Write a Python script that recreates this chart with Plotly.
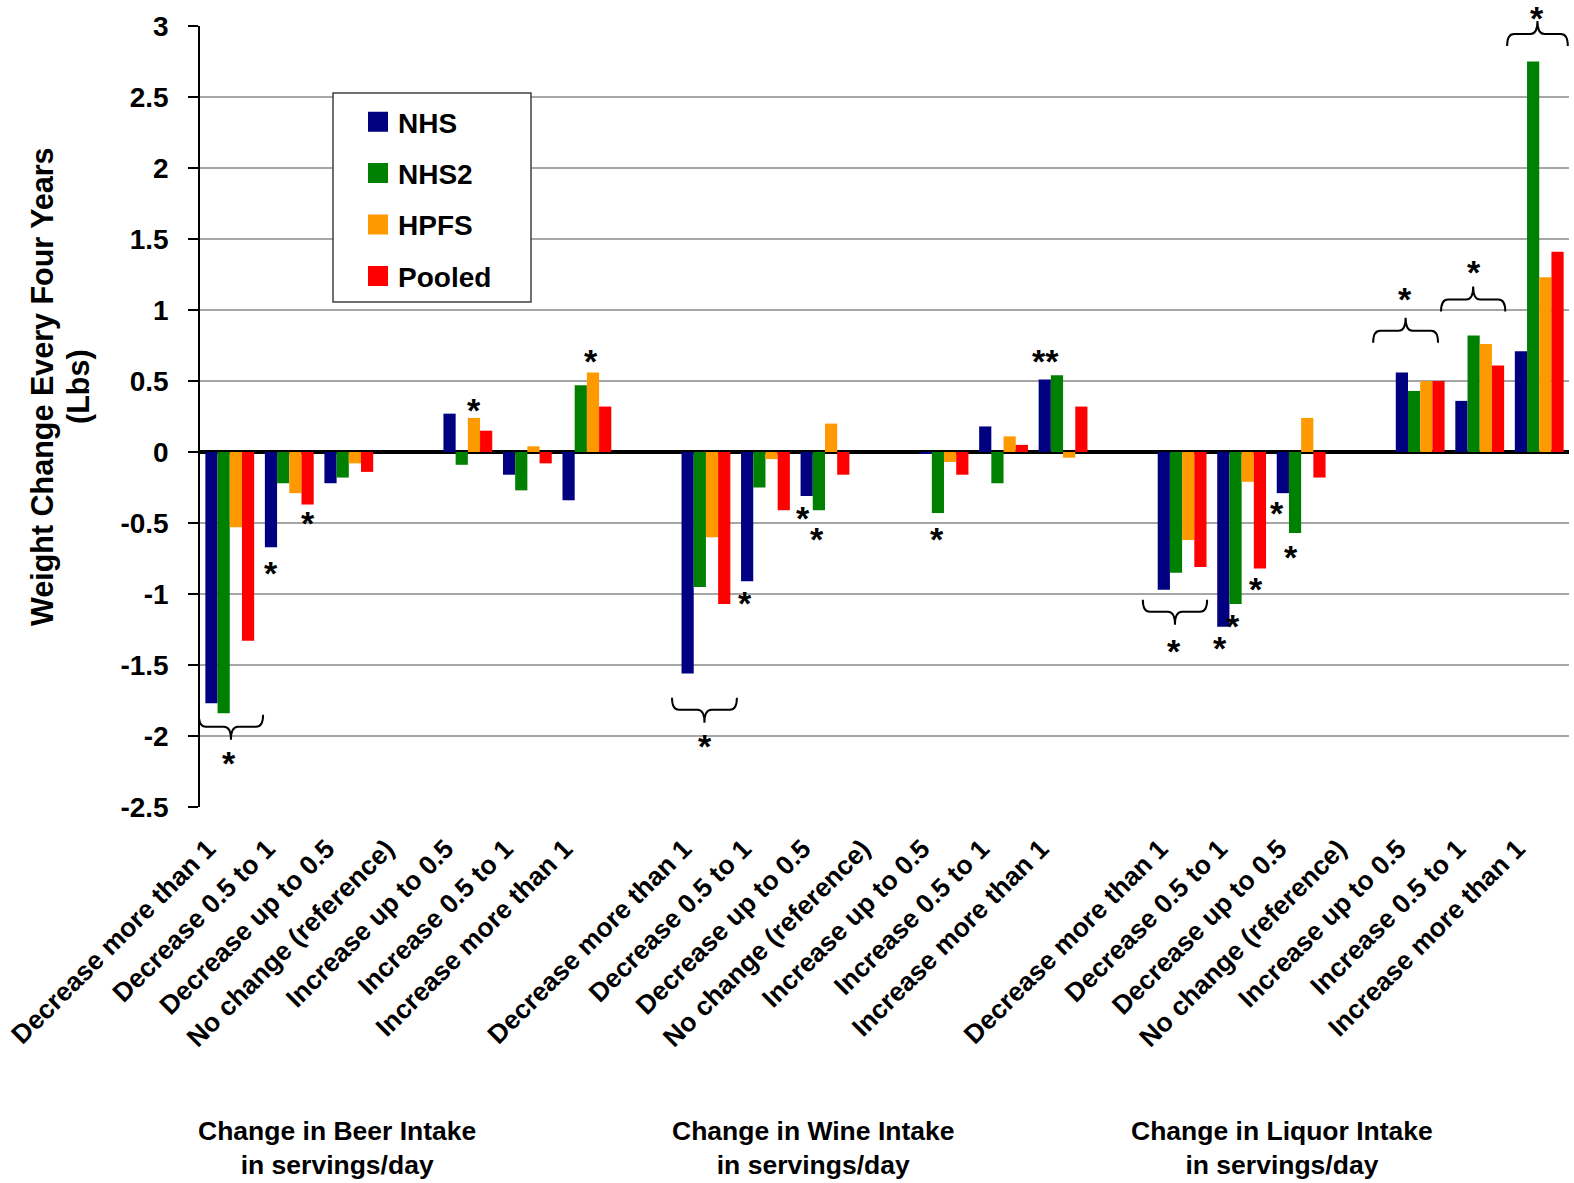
import plotly.graph_objects as go

# ---------------- data ----------------
levels = ["Decrease more than 1", "Decrease 0.5 to 1", "Decrease up to 0.5",
          "No change (reference)", "Increase up to 0.5", "Increase 0.5 to 1",
          "Increase more than 1"]
groups = ["Change in Beer Intake<br>in servings/day",
          "Change in Wine Intake<br>in servings/day",
          "Change in Liquor Intake<br>in servings/day"]
series_names = ["NHS", "NHS2", "HPFS", "Pooled"]
series_colors = ["#000080", "#008000", "#FF9900", "#FF0000"]

beer_nhs = [-1.77, -0.67, -0.22, None, 0.27, -0.16, -0.34]
beer_nhs2 = [-1.84, -0.22, -0.18, None, -0.09, -0.27, 0.47]
beer_hpfs = [-0.53, -0.29, -0.08, None, 0.24, 0.04, 0.56]
beer_pooled = [-1.33, -0.37, -0.14, None, 0.15, -0.08, 0.32]

wine_nhs = [-1.56, -0.91, -0.31, None, -0.01, 0.18, 0.51]
wine_nhs2 = [-0.95, -0.25, -0.41, None, -0.43, -0.22, 0.54]
wine_hpfs = [-0.60, -0.05, 0.20, None, -0.07, 0.11, -0.04]
wine_pooled = [-1.07, -0.41, -0.16, None, -0.16, 0.05, 0.32]

liquor_nhs = [-0.97, -1.23, -0.29, None, 0.56, 0.36, 0.71]
liquor_nhs2 = [-0.85, -1.07, -0.57, None, 0.43, 0.82, 2.75]
liquor_hpfs = [-0.62, -0.21, 0.24, None, 0.50, 0.76, 1.23]
liquor_pooled = [-0.81, -0.82, -0.18, None, 0.50, 0.61, 1.41]

y_tickvals = [3, 2.5, 2, 1.5, 1, 0.5, 0, -0.5, -1, -1.5, -2, -2.5]
y_ticktext = ["3", "2.5", "2", "1.5", "1", "0.5", "0", "-0.5", "-1", "-1.5", "-2", "-2.5"]

# significance markers: (x position in category units, y value, text)
stars = [(-0.01, -2.15, "*"), (0.69, -0.81, "*"), (1.31, -0.46, "*"),
         (4.10, 0.34, "*"), (6.07, 0.68, "*"),
         (7.98, -2.03, "*"), (8.66, -1.02, "*"), (9.63, -0.42, "*"),
         (9.87, -0.57, "*"), (11.88, -0.57, "*"), (13.71, 0.68, "**"),
         (15.86, -1.36, "*"), (16.64, -1.34, "*"), (16.86, -1.18, "*"),
         (17.24, -0.92, "*"), (17.59, -0.39, "*"), (17.83, -0.70, "*"),
         (19.75, 1.12, "*"), (20.90, 1.31, "*"), (21.96, 3.10, "*")]
# braces: (x0, x1, y value at the hooks, direction of tip: -1 down, +1 up)
braces = [(-0.52, 0.56, -1.85, -1), (7.43, 8.52, -1.73, -1),
          (15.34, 16.42, -1.04, -1), (19.21, 20.30, 0.77, 1),
          (20.35, 21.43, 0.99, 1), (21.46, 22.48, 2.86, 1)]
group_label_x = [1.8, 9.8, 17.67]
y_title_lines = ["Weight Change Every Four Years", "(Lbs)"]

# ---------------- build ----------------
def join(a, b, c):
    return a + [None] + b + [None] + c

series = [join(beer_nhs, wine_nhs, liquor_nhs),
          join(beer_nhs2, wine_nhs2, liquor_nhs2),
          join(beer_hpfs, wine_hpfs, liquor_hpfs),
          join(beer_pooled, wine_pooled, liquor_pooled)]
cat_labels = levels + [""] + levels + [""] + levels
xs = list(range(len(cat_labels)))

W, H = 1574, 1183
# plot area in page pixels: x 200..1569, y 26..807
PL, PR, PT, PB = 200, 1569, 26, 807
ML, MT = PL, PT
MR = W - PR
MB = H - PB
YMIN, YMAX = -2.5, 3.0
plot_h = PB - PT
plot_w = PR - PL
px_per_cat = plot_w / len(xs)

FONT = "Liberation Sans, Arial, sans-serif"

fig = go.Figure()
for name, color, vals in zip(series_names, series_colors, series):
    fig.add_trace(go.Bar(x=xs, y=vals, name=name, marker_color=color,
                         marker_line_width=0, showlegend=False))
# legend entries (square swatches)
for i, (name, color) in enumerate(zip(series_names, series_colors)):
    fig.add_trace(go.Scatter(x=[None], y=[None], mode="markers", name=name,
                             legendgroup=f"g{i}",
                             marker=dict(symbol="square", size=16, color=color,
                                         line=dict(color=color, width=4))))

def ypaper(v):
    return (v - YMIN) / (YMAX - YMIN)

def xpaper_px(px):  # page px -> paper
    return (px - PL) / plot_w

def ypaper_px(py):  # page px -> paper
    return (PB - py) / plot_h

annotations = []
for x, y, t in stars:
    annotations.append(dict(x=x, y=ypaper(y), xref="x", yref="paper", text=t, showarrow=False,
                            font=dict(family=FONT, size=34, color="black", weight="bold"),
                            xanchor="center", yanchor="middle", yshift=-6))

shapes = []
# legend frame
shapes.append(dict(type="rect", xref="paper", yref="paper",
                   x0=xpaper_px(333), x1=xpaper_px(531), y0=ypaper_px(302), y1=ypaper_px(93),
                   fillcolor="white", line=dict(color="#404040", width=1.5), layer="above"))
for x0, x1, yv, d in braces:
    yp = ypaper(yv)
    dyh = d * 12 / plot_h
    dyt = d * 25 / plot_h
    dx = 7 / px_per_cat
    xm = (x0 + x1) / 2
    yb = yp + dyh
    yc = yp + dyt
    path = (f"M{x0},{yp} Q{x0},{yb} {x0+dx},{yb} L{xm-dx},{yb} Q{xm},{yb} {xm},{yc} "
            f"Q{xm},{yb} {xm+dx},{yb} L{x1-dx},{yb} Q{x1},{yb} {x1},{yp}")
    shapes.append(dict(type="path", path=path, xref="x", yref="paper",
                       line=dict(color="black", width=2)))

for gx, gt in zip(group_label_x, groups):
    annotations.append(dict(x=gx, y=ypaper_px(1148), xref="x", yref="paper", text=gt,
                            showarrow=False, xanchor="center", yanchor="middle",
                            font=dict(family=FONT, size=26.5, color="black", weight="bold")))

for lx, line in zip([42, 78], y_title_lines):
    annotations.append(dict(x=xpaper_px(lx), y=ypaper_px(387), xref="paper", yref="paper",
                            text=line, textangle=-90,
                            showarrow=False, xanchor="center", yanchor="middle",
                            font=dict(family=FONT, size=30.5, color="black", weight="bold")))

boundaries = [i - 0.5 for i in range(len(xs) + 1)]
zero_pos = ypaper(0)

fig.update_layout(
    template="none",
    width=W, height=H,
    margin=dict(l=ML, r=MR, t=MT, b=MB, autoexpand=False),
    paper_bgcolor="white", plot_bgcolor="white",
    barmode="group", bargap=0.18, bargroupgap=0,
    font=dict(family=FONT, color="black"),
    showlegend=True,
    legend=dict(x=xpaper_px(358), y=ypaper_px(97), xanchor="left", yanchor="top",
                bgcolor="rgba(0,0,0,0)", borderwidth=0,
                font=dict(family=FONT, size=28, color="black", weight="bold"),
                tracegroupgap=12, itemsizing="trace"),
    xaxis=dict(range=[-0.5, len(xs) - 0.5], tickmode="array", tickvals=xs, ticktext=cat_labels,
               tickangle=-45, showgrid=False, zeroline=False, showline=False, ticks="",
               automargin=False, ticklabelshift=-22, ticklabelstandoff=20,
               ticklabeloverflow="allow",
               tickfont=dict(family=FONT, size=26.5, color="black", weight="bold")),
    xaxis2=dict(overlaying="x", anchor="free", position=zero_pos, range=[-0.5, len(xs) - 0.5],
                tickmode="array", tickvals=boundaries, showticklabels=False, ticks="outside",
                ticklen=8, tickwidth=2.5, tickcolor="black", showgrid=False, zeroline=False,
                showline=False, automargin=False),
    xaxis3=dict(overlaying="x", anchor="free", position=zero_pos, range=[-0.5, len(xs) - 0.5],
                tickmode="array", tickvals=boundaries, showticklabels=False, ticks="inside",
                ticklen=8, tickwidth=2.5, tickcolor="black", showgrid=False, zeroline=False,
                showline=False, automargin=False),
    yaxis=dict(range=[YMIN, YMAX], tickmode="array", tickvals=y_tickvals, ticktext=y_ticktext,
               showgrid=True, gridcolor="#a6a6a6", gridwidth=1.5,
               zeroline=True, zerolinecolor="black", zerolinewidth=3.5,
               showline=True, linecolor="black", linewidth=1.5,
               ticks="outside", ticklen=10, tickcolor="black", tickwidth=1.5,
               automargin=False, ticklabelstandoff=14,
               tickfont=dict(family=FONT, size=28, color="black", weight="bold")),
    annotations=annotations, shapes=shapes,
)

fig.write_html("out.html", config={"displayModeBar": False},
               post_script="document.body.style.margin='0';")
